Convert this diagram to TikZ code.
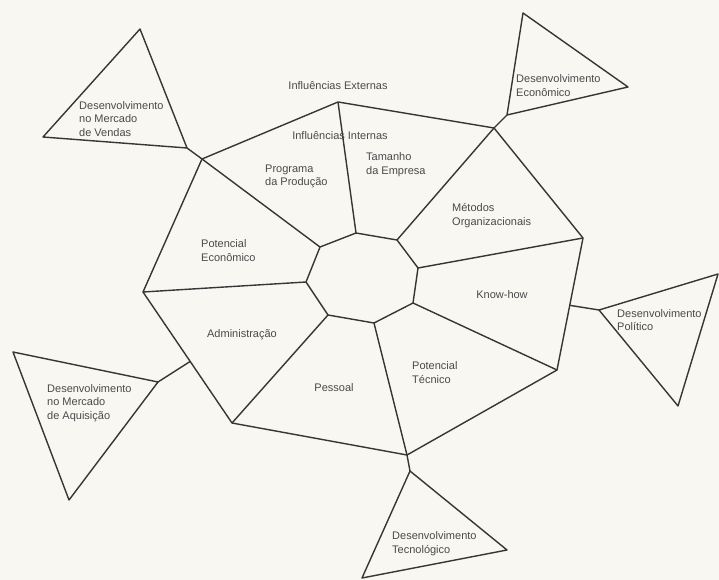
\documentclass[tikz,border=0pt]{standalone}
\usepackage{fontspec}
\setmainfont{Liberation Sans}
\usepackage{xcolor}
\usepackage{tikz}
\usetikzlibrary{calc}
\definecolor{ink}{HTML}{363636}
\definecolor{paper}{HTML}{F8F7F2}
\definecolor{labelgray}{HTML}{4A4A4A}

\begin{document}
\begin{tikzpicture}[x=1pt, y=-1pt,
    seg/.style={draw=ink, line width=1.4pt, line join=round},
    lbl/.style={font=\fontsize{11}{13.5}\selectfont, text=labelgray,
                inner sep=0pt, align=left, anchor=west},
    lblc/.style={lbl, anchor=center, align=center}]
  % Paper
  \fill[paper] (0,0) rectangle (719,580);
  \useasboundingbox (0,0) rectangle (719,580);

  % Inner octagon and outer ring corners
  \foreach \n/\xx/\yy in {i1/356/233, i2/397/240, i3/418/268, i4/413/303,
                          i5/374/323, i6/328/315, i7/306/282, i8/320/247,
                          o1/338/102, o2/494/128, o3/583/238, o4/557/370,
                          o5/407/455, o6/232/423, o7/143/292, o8/202/159}
    \coordinate (\n) at (\xx,\yy);

  \draw[seg] (i1) -- (i2) -- (i3) -- (i4) -- (i5) -- (i6) -- (i7) -- (i8) -- cycle;
  \draw[seg] (o1) -- (o2) -- (o3) -- (o4) -- (o5) -- (o6) -- (o7) -- (o8) -- cycle;
  \foreach \k in {1,...,8}
    \draw[seg] (i\k) -- (o\k);

  % Outer triangles
  \foreach \n/\xx/\yy in {venA/140/29, venB/43/137, venC/187/148,
                          ecoA/523/13, ecoB/628/87, ecoC/507/115,
                          polA/599/310, polB/718/274, polC/678/406,
                          tecA/410/471, tecB/507/550, tecC/362/578,
                          aqiA/13/352, aqiB/158/382, aqiC/69/500}
    \coordinate (\n) at (\xx,\yy);
  \coordinate (polFoot) at ($(o3)!0.51!(o4)$);
  \coordinate (aqiFoot) at ($(o7)!0.53!(o6)$);

  \foreach \t in {ven, eco, pol, tec, aqi}
    \draw[seg] (\t A) -- (\t B) -- (\t C) -- cycle;
  \draw[seg] (venC) -- (o8);
  \draw[seg] (ecoC) -- (o2);
  \draw[seg] (polA) -- (polFoot);
  \draw[seg] (tecA) -- (o5);
  \draw[seg] (aqiB) -- (aqiFoot);

  % Labels
  \node[lbl] (vendas) at (79,119) {Desenvolvimento\\no Mercado\\de Vendas};
  \node[lbl] (economico) at (516,85.5) {Desenvolvimento\\Econômico};
  \node[lbl] (politico) at (617,320) {Desenvolvimento\\Político};
  \node[lbl] (tecnologico) at (392,543.5) {Desenvolvimento\\Tecnológico};
  \node[lbl] (aquisicao) at (47,403) {Desenvolvimento\\no Mercado\\de Aquisição};
  \node[lblc] (externas) at (338,86) {Influências Externas};
  \node[lblc] (internas) at (340,136) {Influências Internas};
  \node[lbl] (programa) at (265,176.5) {Programa\\da Produção};
  \node[lbl] (tamanho) at (366,164.5) {Tamanho\\da Empresa};
  \node[lbl] (metodos) at (452,215.5) {Métodos\\Organizacionais};
  \node[lbl] (potEco) at (201,250.5) {Potencial\\Econômico};
  \node[lblc] (knowhow) at (502,295) {Know-how};
  \node[lblc] (admin) at (242,335) {Administração};
  \node[lblc] (pessoal) at (334,388) {Pessoal};
  \node[lbl] (potTec) at (412,372.5) {Potencial\\Técnico};
\end{tikzpicture}
\end{document}
